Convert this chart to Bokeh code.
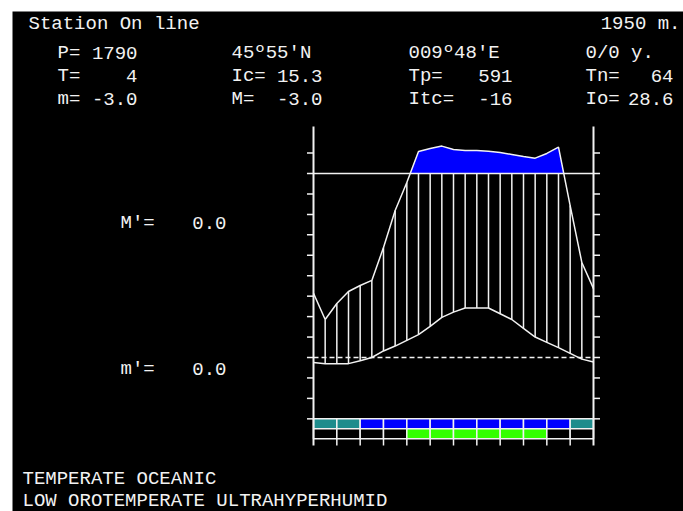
from bokeh.plotting import figure
from bokeh.models import Range1d
from bokeh.core.properties import value
from bokeh.embed import file_html
from bokeh.resources import INLINE

# ---------------- data ----------------
# half-month vertices, Jan 1 .. Dec 31 (25 points, x in months 0..12)
temp_c = [-1.2, -1.5, -1.5, -1.5, -0.8, 0.0, 1.6, 2.8, 4.2, 5.6, 7.6, 9.8,
          11.1, 12.1, 12.1, 12.1, 10.7, 9.3, 7.1, 5.0, 3.7, 2.4, 1.0, -0.4, -1.1]
precip_mm = [31.4, 18.6, 26.4, 32.3, 35.2, 37.7, 53.8, 71.9, 85.6, 198, 212, 224,
             207, 202, 202, 199, 193, 183, 173, 165, 188, 219, 74.3, 46.5, 33.7]
# monthly bands below the diagram
band1 = ["teal", "teal", "blue", "blue", "blue", "blue", "blue", "blue", "blue", "blue", "blue", "teal"]
band2 = ["none", "none", "none", "none", "green", "green", "green", "green", "green", "green", "none", "none"]
band_colors = {"teal": "#1e8c8c", "blue": "#0000ff", "green": "#33ff00", "none": "#000000"}
tick_values = [-15, -10, -5, 0, 5, 10, 15, 20, 25, 30, 35, 40, 45, 50]
P_LINE_MM = 90          # precipitation level of the solid horizontal line
P_COMPRESS = 20         # scale compression above that line

title_text = "Station On line"
altitude_text = "1950 m."
col1_labels = ["P=", "T=", "m="]
col1_values = ["1790", "4", "-3.0"]
col2_labels = ["", "Ic=", "M="]
col2_values = ["45º55'N", "15.3", "-3.0"]
col3_labels = ["", "Tp=", "Itc="]
col3_values = ["009º48'E", "591", "-16"]
col4_labels = ["", "Tn=", "Io="]
col4_values = ["0/0 y.", "64", "28.6"]
side_labels = ["M'=", "m'="]
side_values = ["0.0", "0.0"]
bottom_lines = ["TEMPERATE OCEANIC", "LOW OROTEMPERATE ULTRAHYPERHUMID"]

# ---------------- layout helpers (screen px -> data) ----------------
X0_PX, PX_PER_MONTH = 313.0, 23.333
Y0_PX, PX_PER_DEG = 357.0, 4.089
FRAME_L, FRAME_T = 12, 11
W, H = 683, 511


def sx(px):
    return (px - X0_PX) / PX_PER_MONTH


def sy(py):
    return (Y0_PX - py) / PX_PER_DEG


def p_plot(v):
    line = P_LINE_MM / 2.0
    return v / 2.0 if v <= P_LINE_MM else line + (v - P_LINE_MM) / P_COMPRESS


LINE = P_LINE_MM / 2.0
AX_TOP = sy(126)
ROW1_TOP, ROW1_BOT, ROW2_BOT = -15.0, sy(428.3), sy(438.3)
TICK_BOT = sy(445)
TICK_LEN = 0.28

WHITE = "#f2f2f2"
FONT = value("Liberation Mono")
FS = value("19px")

p = figure(width=W, height=H,
           x_range=Range1d(sx(FRAME_L), sx(W)), y_range=Range1d(sy(H), sy(FRAME_T)),
           x_axis_type=None, y_axis_type=None,
           output_backend="svg", toolbar_location=None,
           background_fill_color="black", border_fill_color="white",
           outline_line_color=None, min_border=0,
           min_border_left=FRAME_L, min_border_top=FRAME_T,
           min_border_right=0, min_border_bottom=0)

n = len(temp_c)
xs = [12.0 * i / (n - 1) for i in range(n)]
pp = [p_plot(v) for v in precip_mm]

# blue area above the line
bx, by = [], []
for i in range(n):
    if i > 0 and (pp[i - 1] - LINE) * (pp[i] - LINE) < 0:
        t = (LINE - pp[i - 1]) / (pp[i] - pp[i - 1])
        bx.append(xs[i - 1] + t * (xs[i] - xs[i - 1]))
        by.append(LINE)
    bx.append(xs[i])
    by.append(max(pp[i], LINE))
p.varea(x=bx, y1=[LINE] * len(bx), y2=by, fill_color="#0000ff")

# vertical hatching between temperature and precipitation
hx = xs[1:n - 1]
p.segment(x0=hx, y0=temp_c[1:n - 1], x1=hx, y1=[min(v, LINE) for v in pp[1:n - 1]],
          line_color=WHITE, line_width=1.5)

# reference lines
p.line([0, 12], [LINE, LINE], line_color=WHITE, line_width=1.5)
p.line([0, 12], [0, 0], line_color=WHITE, line_width=1.5, line_dash="5 3")

# curves
p.line(xs, pp, line_color=WHITE, line_width=1.5)
p.line(xs, temp_c, line_color=WHITE, line_width=1.5)

# month bands
months = list(range(12))
p.quad(left=months, right=[m + 1 for m in months], top=ROW1_TOP, bottom=ROW1_BOT,
       fill_color=[band_colors[c] for c in band1], line_color=WHITE, line_width=1.5)
p.quad(left=months, right=[m + 1 for m in months], top=ROW1_BOT, bottom=ROW2_BOT,
       fill_color=[band_colors[c] for c in band2], line_color=WHITE, line_width=1.5)
p.segment(x0=months[1:], y0=ROW2_BOT, x1=months[1:], y1=TICK_BOT,
          line_color=WHITE, line_width=1.5)

# side axes with ticks
p.segment(x0=[0, 12], y0=[AX_TOP, AX_TOP], x1=[0, 12], y1=[TICK_BOT, TICK_BOT],
          line_color=WHITE, line_width=2)
nt = len(tick_values)
p.segment(x0=[-TICK_LEN] * nt, y0=tick_values, x1=[0] * nt, y1=tick_values,
          line_color=WHITE, line_width=1.5)
p.segment(x0=[12] * nt, y0=tick_values, x1=[12 + TICK_LEN] * nt, y1=tick_values,
          line_color=WHITE, line_width=1.5)


def txt(xpx, ypx, s, align="left"):
    p.text(x=[sx(v) for v in xpx], y=[sy(v) for v in ypx], text=s,
           text_color=WHITE, text_font=FONT, text_font_size=FS,
           text_align=align, text_baseline="middle")


row_y = [52, 75, 98]
txt([28], [23], [title_text])
txt([680], [23], [altitude_text], "right")
for labels, values, x_left, x_right in [
        (col1_labels, col1_values, 57, 137),
        (col2_labels, col2_values, 231, 322),
        (col3_labels, col3_values, 408, 512),
        (col4_labels, col4_values, 585, 673)]:
    for lab, val, yy in zip(labels, values, row_y):
        if lab:
            txt([x_left], [yy], [lab])
            txt([x_right], [yy], [val], "right")
        else:
            txt([x_left], [yy], [val])

txt([120, 120], [222, 368], side_labels)
txt([226, 226], [222, 368], side_values, "right")
txt([22, 22], [478, 500], bottom_lines)

open("out.html", "w").write(file_html(p, INLINE))
